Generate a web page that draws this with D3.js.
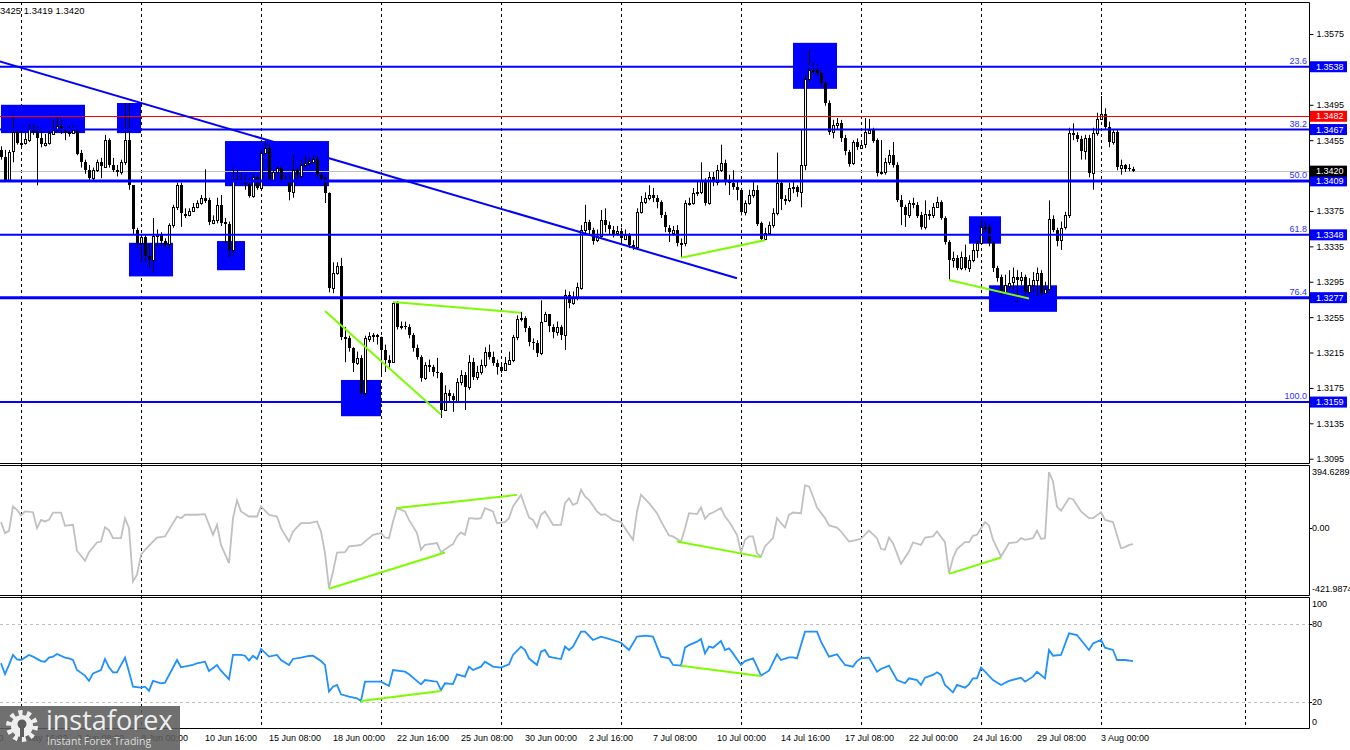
<!DOCTYPE html>
<html>
<head>
<meta charset="utf-8">
<script src="https://cdn.jsdelivr.net/npm/d3@7"></script>
<style>
  body { margin: 0; background: #fff; }
  svg { display: block; }
</style>
</head>
<body>
<svg id="chart"></svg>
<script>
// ---- data ----
const firstOpen = 1.3444;
const closes = [
  1.3436,1.3410,1.3442,1.3464,1.3452,1.3452,1.3456,1.3469,1.3465,1.3457,
  1.3450,1.3452,1.3463,1.3467,1.3471,1.3468,1.3463,1.3464,1.3467,1.3440,
  1.3430,1.3421,1.3412,1.3421,1.3430,1.3425,1.3455,1.3427,1.3421,1.3419,
  1.3430,1.3455,1.3404,1.3354,1.3339,1.3346,1.3324,1.3320,1.3347,1.3349,
  1.3341,1.3337,1.3359,1.3379,1.3404,1.3372,1.3370,1.3375,1.3379,1.3384,
  1.3390,1.3387,1.3362,1.3365,1.3382,1.3362,1.3360,1.3331,1.3411,1.3411,
  1.3411,1.3405,1.3392,1.3413,1.3401,1.3440,1.3446,1.3410,1.3419,1.3424,
  1.3410,1.3410,1.3396,1.3421,1.3415,1.3427,1.3429,1.3431,1.3434,1.3416,
  1.3412,1.3395,1.3288,1.3305,1.3313,1.3233,1.3231,1.3220,1.3203,1.3209,
  1.3169,1.3231,1.3234,1.3235,1.3233,1.3218,1.3207,1.3204,1.3271,1.3244,
  1.3245,1.3244,1.3235,1.3220,1.3210,1.3186,1.3201,1.3199,1.3193,1.3192,
  1.3150,1.3169,1.3166,1.3161,1.3182,1.3190,1.3176,1.3204,1.3187,1.3193,
  1.3201,1.3216,1.3210,1.3203,1.3199,1.3195,1.3203,1.3207,1.3233,1.3253,
  1.3254,1.3243,1.3227,1.3226,1.3215,1.3250,1.3258,1.3244,1.3238,1.3244,
  1.3235,1.3280,1.3271,1.3278,1.3289,1.3354,1.3363,1.3354,1.3342,1.3347,
  1.3365,1.3359,1.3354,1.3350,1.3352,1.3344,1.3348,1.3337,1.3334,1.3374,
  1.3385,1.3390,1.3393,1.3390,1.3385,1.3370,1.3356,1.3351,1.3354,1.3339,
  1.3339,1.3384,1.3384,1.3395,1.3396,1.3410,1.3384,1.3413,1.3407,1.3421,
  1.3429,1.3408,1.3407,1.3402,1.3399,1.3374,1.3384,1.3393,1.3399,1.3361,
  1.3343,1.3350,1.3359,1.3373,1.3407,1.3389,1.3387,1.3401,1.3402,1.3396,
  1.3427,1.3524,1.3534,1.3534,1.3531,1.3520,1.3497,1.3464,1.3472,1.3474,
  1.3457,1.3442,1.3429,1.3453,1.3447,1.3450,1.3464,1.3467,1.3455,1.3418,
  1.3419,1.3430,1.3438,1.3427,1.3387,1.3379,1.3370,1.3384,1.3382,1.3370,
  1.3357,1.3372,1.3370,1.3379,1.3385,1.3367,1.3340,1.3320,1.3322,1.3311,
  1.3323,1.3311,1.3320,1.3331,1.3339,1.3357,1.3357,1.3339,1.3311,1.3300,
  1.3283,1.3291,1.3294,1.3300,1.3297,1.3300,1.3283,1.3291,1.3297,1.3305,
  1.3282,1.3287,1.3366,1.3354,1.3342,1.3356,1.3370,1.3463,1.3461,1.3456,
  1.3442,1.3457,1.3418,1.3463,1.3479,1.3485,1.3470,1.3453,1.3464,1.3424,
  1.3427,1.3423,1.3422,1.3420
];
const highs = [
  1.3448,1.3444,1.3444,1.3483,1.3467,1.3467,1.3463,1.3473,1.3473,1.3471,
  1.3469,1.3462,1.3467,1.3478,1.3480,1.3478,1.3469,1.3471,1.3472,1.3460,
  1.3444,1.3433,1.3427,1.3424,1.3433,1.3435,1.3461,1.3457,1.3435,1.3427,
  1.3433,1.3497,1.3497,1.3404,1.3356,1.3348,1.3348,1.3337,1.3367,1.3354,
  1.3351,1.3344,1.3361,1.3382,1.3407,1.3407,1.3378,1.3378,1.3384,1.3387,
  1.3393,1.3422,1.3390,1.3370,1.3390,1.3393,1.3367,1.3363,1.3424,1.3421,
  1.3419,1.3416,1.3412,1.3416,1.3415,1.3444,1.3455,1.3451,1.3421,1.3425,
  1.3426,1.3416,1.3416,1.3438,1.3424,1.3433,1.3438,1.3435,1.3438,1.3438,
  1.3419,1.3415,1.3396,1.3317,1.3317,1.3322,1.3244,1.3234,1.3221,1.3216,
  1.3212,1.3234,1.3238,1.3237,1.3236,1.3231,1.3224,1.3212,1.3273,1.3273,
  1.3250,1.3250,1.3247,1.3237,1.3224,1.3212,1.3204,1.3207,1.3201,1.3209,
  1.3193,1.3178,1.3173,1.3169,1.3186,1.3195,1.3193,1.3212,1.3209,1.3200,
  1.3207,1.3221,1.3224,1.3216,1.3207,1.3204,1.3210,1.3216,1.3235,1.3257,
  1.3261,1.3256,1.3245,1.3231,1.3229,1.3274,1.3261,1.3257,1.3247,1.3250,
  1.3246,1.3286,1.3284,1.3284,1.3294,1.3359,1.3382,1.3365,1.3356,1.3354,
  1.3376,1.3378,1.3363,1.3358,1.3358,1.3356,1.3354,1.3350,1.3342,1.3378,
  1.3392,1.3396,1.3404,1.3401,1.3393,1.3387,1.3374,1.3359,1.3358,1.3359,
  1.3344,1.3387,1.3390,1.3401,1.3410,1.3430,1.3412,1.3419,1.3419,1.3427,
  1.3450,1.3433,1.3416,1.3421,1.3410,1.3393,1.3387,1.3399,1.3408,1.3404,
  1.3363,1.3356,1.3363,1.3378,1.3441,1.3410,1.3393,1.3407,1.3408,1.3404,
  1.3467,1.3529,1.3557,1.3543,1.3541,1.3534,1.3521,1.3500,1.3478,1.3480,
  1.3478,1.3461,1.3444,1.3455,1.3457,1.3455,1.3480,1.3479,1.3469,1.3457,
  1.3455,1.3435,1.3444,1.3453,1.3430,1.3393,1.3382,1.3387,1.3390,1.3385,
  1.3374,1.3387,1.3376,1.3384,1.3391,1.3387,1.3369,1.3342,1.3329,1.3325,
  1.3329,1.3337,1.3325,1.3338,1.3342,1.3368,1.3363,1.3360,1.3340,1.3313,
  1.3303,1.3303,1.3308,1.3311,1.3308,1.3306,1.3303,1.3299,1.3306,1.3311,
  1.3308,1.3295,1.3387,1.3370,1.3356,1.3363,1.3374,1.3469,1.3474,1.3464,
  1.3460,1.3461,1.3461,1.3469,1.3486,1.3505,1.3491,1.3476,1.3467,1.3467,
  1.3433,1.3428,1.3428,1.3425
];
const lows = [
  1.3433,1.3408,1.3408,1.3430,1.3450,1.3446,1.3450,1.3453,1.3461,1.3404,
  1.3447,1.3448,1.3450,1.3463,1.3464,1.3462,1.3455,1.3459,1.3462,1.3438,
  1.3424,1.3417,1.3410,1.3410,1.3419,1.3412,1.3424,1.3424,1.3419,1.3414,
  1.3416,1.3427,1.3399,1.3348,1.3333,1.3317,1.3317,1.3311,1.3305,1.3335,
  1.3335,1.3333,1.3333,1.3356,1.3376,1.3357,1.3367,1.3369,1.3376,1.3378,
  1.3382,1.3384,1.3359,1.3360,1.3361,1.3358,1.3338,1.3322,1.3325,1.3408,
  1.3405,1.3399,1.3390,1.3390,1.3399,1.3401,1.3440,1.3408,1.3408,1.3417,
  1.3407,1.3408,1.3387,1.3390,1.3410,1.3412,1.3424,1.3425,1.3429,1.3412,
  1.3410,1.3384,1.3283,1.3282,1.3303,1.3229,1.3204,1.3216,1.3193,1.3201,
  1.3167,1.3164,1.3227,1.3227,1.3224,1.3190,1.3193,1.3198,1.3204,1.3241,
  1.3241,1.3241,1.3231,1.3216,1.3207,1.3182,1.3184,1.3193,1.3188,1.3186,
  1.3141,1.3150,1.3159,1.3148,1.3159,1.3178,1.3150,1.3173,1.3184,1.3184,
  1.3190,1.3198,1.3207,1.3200,1.3190,1.3192,1.3195,1.3201,1.3204,1.3229,
  1.3250,1.3238,1.3222,1.3218,1.3210,1.3212,1.3250,1.3238,1.3231,1.3234,
  1.3229,1.3218,1.3265,1.3269,1.3274,1.3286,1.3348,1.3348,1.3337,1.3340,
  1.3345,1.3351,1.3348,1.3345,1.3347,1.3340,1.3342,1.3333,1.3331,1.3331,
  1.3372,1.3383,1.3387,1.3385,1.3378,1.3367,1.3351,1.3340,1.3347,1.3335,
  1.3322,1.3335,1.3381,1.3382,1.3392,1.3394,1.3381,1.3382,1.3403,1.3404,
  1.3419,1.3404,1.3393,1.3399,1.3387,1.3370,1.3370,1.3382,1.3390,1.3358,
  1.3340,1.3342,1.3348,1.3356,1.3370,1.3376,1.3382,1.3385,1.3395,1.3391,
  1.3379,1.3421,1.3521,1.3530,1.3528,1.3516,1.3494,1.3461,1.3457,1.3467,
  1.3453,1.3438,1.3425,1.3427,1.3444,1.3446,1.3446,1.3462,1.3452,1.3414,
  1.3416,1.3416,1.3427,1.3424,1.3385,1.3359,1.3357,1.3367,1.3378,1.3367,
  1.3354,1.3354,1.3365,1.3367,1.3381,1.3365,1.3337,1.3297,1.3311,1.3308,
  1.3308,1.3308,1.3306,1.3317,1.3322,1.3337,1.3351,1.3335,1.3306,1.3295,
  1.3279,1.3281,1.3286,1.3286,1.3272,1.3291,1.3280,1.3281,1.3283,1.3279,
  1.3277,1.3283,1.3283,1.3351,1.3335,1.3331,1.3354,1.3367,1.3455,1.3453,
  1.3433,1.3433,1.3413,1.3399,1.3460,1.3480,1.3467,1.3447,1.3450,1.3421,
  1.3416,1.3419,1.3420,1.3419
];

// CCI (gray) and RSI (blue) vertices: bar index and value
const cciBars = [0,1,2,3,4,5,6,8,9,10,11,12,13,15,16,18,19,21,22,24,25,26,27,28,30,31,32,33,34,35,36,38,39,41,44,45,46,49,51,53,54,55,57,58,59,60,62,64,65,67,69,70,72,73,75,77,79,80,81,82,83,84,86,87,89,90,92,93,95,96,97,98,99,101,102,104,105,106,109,110,112,113,114,115,116,117,119,120,121,123,124,126,127,128,130,131,132,133,134,135,136,137,138,140,141,142,143,144,145,146,147,149,150,151,153,155,156,158,159,160,162,164,165,167,168,170,171,172,174,175,176,177,178,180,181,182,184,185,186,187,188,189,190,191,193,194,195,196,197,198,200,201,202,203,204,206,207,209,210,212,214,215,217,219,220,221,222,223,225,227,228,230,231,233,234,236,237,238,239,241,242,243,244,246,247,248,250,252,254,255,256,258,259,260,261,262,263,264,265,267,268,270,272,273,275,276,278,280,281,282,283];
const cciVals = [36,-33,-19,134,113,77,103,98,-2,50,40,50,96,96,13,19,-144,-207,-153,-92,-86,4,-15,-65,-65,61,-2,-337,-295,-170,-138,-86,-61,-54,71,61,82,82,86,-44,19,-107,-222,61,172,103,71,71,134,82,71,-2,-86,-23,29,29,40,-23,-159,-379,-274,-155,-153,-117,-111,-107,-65,-44,-33,-61,-65,40,124,103,50,-33,-138,-107,-96,-153,-117,-102,-54,-29,-44,61,57,61,124,103,29,36,61,134,207,134,65,50,2,82,103,61,19,19,155,186,144,155,239,197,176,103,82,86,50,36,-2,-75,103,207,155,92,40,-48,-54,-86,-2,92,86,128,57,86,96,124,71,40,-44,-155,-75,-54,-54,-159,-180,-117,-65,61,29,2,82,96,92,266,260,197,128,61,15,2,-23,-86,-75,-69,-17,-65,-132,-138,-61,-96,-226,-149,-92,-107,-61,-54,-23,-90,-285,-190,-134,-90,-90,-50,-44,36,15,-75,-180,-96,-90,-65,-75,-65,-17,-69,-65,350,291,134,107,186,180,103,61,61,98,50,36,-128,-121,-107,-103];
const cciMax = 394.6289, cciMin = -421.9874;

const rsiBars = [0,1,2,3,4,5,7,8,10,11,12,13,14,16,17,18,19,21,22,23,25,26,27,28,29,31,32,33,35,36,37,38,40,41,44,45,48,49,51,52,54,55,57,58,60,61,62,63,64,65,67,69,70,72,73,75,77,78,80,81,82,83,84,85,87,89,90,91,95,97,98,101,102,105,106,109,110,111,113,114,116,117,118,120,121,123,125,127,128,130,131,132,133,134,135,136,137,138,140,141,142,143,145,146,148,150,152,155,157,159,161,163,165,167,168,170,171,172,174,175,176,177,178,180,181,182,183,185,186,188,189,190,192,194,195,197,198,199,201,204,205,207,209,211,213,214,215,217,219,220,222,224,226,227,229,230,231,233,234,235,236,238,239,241,242,243,244,245,246,248,250,252,255,256,258,259,261,262,263,265,267,269,270,272,273,275,276,278,279,281,283];
const rsiVals = [49.8,41.5,48.5,56.2,52.8,52.3,56.2,54.9,51.5,51,54.1,54.9,56.9,54.1,53.6,52.3,44.6,40.3,36.2,42,44.6,53.1,46.7,42.8,42.8,54.1,43.3,31.8,31,31.8,28.5,36.2,34.4,34.9,52.3,46.7,48.5,49.8,51,43.8,48.5,44.1,37.4,56.2,56.2,55.6,51.8,55.6,53.1,60.8,54.9,56.2,52.3,48.5,53.1,54.1,55.4,55.6,51.5,48.5,28,31.8,33.1,25.9,24.1,22.8,20.8,35.6,35.6,32.3,44.6,43.3,41.3,33.6,36.9,35.6,29.2,34.4,33.8,41.3,39.5,47.2,44.6,47.2,51,47.2,46.4,49,56.2,62.6,60,53.6,51,48.5,58.7,60,54.9,54.1,53,62.6,60,62.6,74.1,74.1,67.7,70.3,68.5,65.6,60,70.3,71,70.3,54.9,53.6,48.5,48,61.8,63.8,66.4,68.5,57.4,62.6,61.8,66.9,60,61.3,57.4,48.5,51.5,53.6,47.2,40.3,44.1,56.7,52.3,54.4,54.4,53.6,74.1,74.1,66.4,54.9,56.7,48.5,47.2,51.5,53.6,54.1,43.3,45.4,48,36.9,34.4,38.2,36.9,33.1,38.7,40.8,42.8,40.8,33.1,27.4,33.1,31,33.6,38.2,38.2,46.4,43.3,36.9,33.1,36.2,38.7,35.6,39.5,43.3,38.2,60,55.6,56.2,72.8,71.5,67.7,60,65.1,67.7,61.8,60,52.3,52.3,51.5];

// levels
const fibPrices = [1.3538, 1.3467, 1.3409, 1.3348, 1.3277, 1.3159];
const fibNames = ["23.6", "38.2", "50.0", "61.8", "76.4", "100.0"];
const resistance = 1.3482;
const bid = 1.3420;

// zones: bar span and price span
const zoneStart = [0, 29, 56, 32, 54, 85, 198, 242, 247];
const zoneEnd = [21, 35, 82, 43, 61, 95, 209, 250, 264];
const zoneTop = [1.3495, 1.3497, 1.3454, 1.3339, 1.3341, 1.3184, 1.3565, 1.3369, 1.3291];
const zoneBottom = [1.3463, 1.3463, 1.3403, 1.3301, 1.3308, 1.3143, 1.3513, 1.3338, 1.3261];

const trendBars = [-1, 184], trendPrices = [1.3545, 1.3299];
const priceDivBars = [[81, 110], [98, 130], [170, 191], [237, 257]];
const priceDivVals = [[1.3262, 1.3145], [1.3272, 1.3260], [1.3322, 1.3342], [1.3297, 1.3276]];
const cciDivBars = [[82, 111], [99, 129], [169, 190], [237, 250]];
const cciDivVals = [[-383, -155], [124, 207], [-86, -184], [-289, -186]];
const rsiDivBars = [[90, 110], [170, 190]];
const rsiDivVals = [[20.8, 28.5], [47.9, 40]];

const priceTicks = [1.3575,1.3535,1.3495,1.3455,1.3415,1.3375,1.3335,1.3295,1.3255,1.3215,1.3175,1.3135,1.3095];
const hiddenTicks = [1.3535, 1.3415]; // covered by level tags
const gridBars = [5, 35, 65, 95, 125, 155, 185, 215, 245, 275, 311];
const timeBars = [-13,3,19,35,51,67,83,99,115,131,147,163,179,195,211,227,243,259,275];
const timeLabels = ["27 May 00:00","29 May 16:00","3 Jun 08:00","8 Jun 00:00","10 Jun 16:00","15 Jun 08:00","18 Jun 00:00","22 Jun 16:00","25 Jun 08:00","30 Jun 00:00","2 Jul 16:00","7 Jul 08:00","10 Jul 00:00","14 Jul 16:00","17 Jul 08:00","22 Jul 00:00","24 Jul 16:00","29 Jul 08:00","3 Aug 00:00"];

// ---- layout ----
const W = 1350, H = 750, right = 1309;
const FONT = "'Liberation Sans', Arial, sans-serif";
const BLUE = "#0000ff", GREEN = "#7cfc00";

const svg = d3.select("#chart").attr("width", W).attr("height", H)
  .style("font-family", FONT);

const x = d3.scaleLinear().domain([0, 283]).range([1, 1133]);
const yMain = d3.scaleLinear().domain([1.3095, 1.3575]).range([458.7, 34]);
const yCci = d3.scaleLinear().domain([cciMin, cciMax]).range([595, 465]);
const yRsi = d3.scaleLinear().domain([0, 100]).range([728, 598]);

const defs = svg.append("defs");
function clip(id, y0, y1) {
  defs.append("clipPath").attr("id", id).append("rect")
    .attr("x", 0).attr("y", y0).attr("width", right).attr("height", y1 - y0);
  return svg.append("g").attr("clip-path", `url(#${id})`);
}

// grid (weekly dashed lines across all panels)
svg.append("g").selectAll("line").data(gridBars).join("line")
  .attr("x1", d => Math.round(x(d)) + 0.5).attr("x2", d => Math.round(x(d)) + 0.5)
  .attr("y1", 2).attr("y2", 729)
  .attr("stroke", "#000").attr("stroke-dasharray", "3,3");

// ---- main panel ----
const main = clip("clipMain", 3, 463);

main.append("g").selectAll("rect").data(d3.range(zoneStart.length)).join("rect")
  .attr("x", k => x(zoneStart[k]))
  .attr("width", k => x(zoneEnd[k]) - x(zoneStart[k]))
  .attr("y", k => yMain(zoneTop[k]))
  .attr("height", k => yMain(zoneBottom[k]) - yMain(zoneTop[k]))
  .attr("fill", BLUE);

main.append("line").attr("x1", 0).attr("x2", right)
  .attr("y1", Math.round(yMain(bid)) + 0.5).attr("y2", Math.round(yMain(bid)) + 0.5)
  .attr("stroke", "#c0c0c0");

const candles = closes.map((c, i) => ({
  i, c, o: i ? closes[i - 1] : firstOpen, h: highs[i], l: lows[i]
}));
const cg = main.append("g").selectAll("g").data(candles).join("g");
cg.append("line")
  .attr("x1", d => Math.round(x(d.i)) + 0.5).attr("x2", d => Math.round(x(d.i)) + 0.5)
  .attr("y1", d => yMain(Math.max(d.h, d.o, d.c)))
  .attr("y2", d => yMain(Math.min(d.l, d.o, d.c)))
  .attr("stroke", "#000");
cg.append("rect")
  .attr("x", d => Math.round(x(d.i)) - (d.c >= d.o ? 0.5 : 1))
  .attr("width", d => d.c >= d.o ? 2 : 3)
  .attr("y", d => Math.round(yMain(Math.max(d.o, d.c))) + (d.c >= d.o ? 0.5 : 0))
  .attr("height", d => Math.max(1, Math.round(yMain(Math.min(d.o, d.c)) - yMain(Math.max(d.o, d.c)))))
  .attr("fill", d => d.c >= d.o ? "#fff" : "#000")
  .attr("stroke", d => d.c >= d.o ? "#000" : "none");

// levels
main.append("line").attr("x1", 0).attr("x2", right)
  .attr("y1", Math.round(yMain(resistance)) + 0.5).attr("y2", Math.round(yMain(resistance)) + 0.5)
  .attr("stroke", "#ff0000");
const thick = new Set([1.3409, 1.3277]);
main.append("g").selectAll("line").data(fibPrices).join("line")
  .attr("x1", 0).attr("x2", right)
  .attr("y1", d => yMain(d)).attr("y2", d => yMain(d))
  .attr("stroke", BLUE).attr("stroke-width", d => thick.has(d) ? 3 : 2);
main.append("g").selectAll("text").data(fibPrices).join("text")
  .attr("x", right - 2).attr("y", d => yMain(d) - 3)
  .attr("text-anchor", "end").attr("font-size", 9).attr("fill", "#3030ff")
  .text((d, k) => fibNames[k]);

main.append("line")
  .attr("x1", x(trendBars[0])).attr("y1", yMain(trendPrices[0]))
  .attr("x2", x(trendBars[1])).attr("y2", yMain(trendPrices[1]))
  .attr("stroke", BLUE).attr("stroke-width", 2);

function divLines(g, bars, vals, y) {
  g.append("g").selectAll("line").data(bars).join("line")
    .attr("x1", (d, k) => x(d[0])).attr("y1", (d, k) => y(vals[k][0]))
    .attr("x2", (d, k) => x(d[1])).attr("y2", (d, k) => y(vals[k][1]))
    .attr("stroke", GREEN).attr("stroke-width", 2);
}
divLines(main, priceDivBars, priceDivVals, yMain);

// ---- CCI panel ----
const cci = clip("clipCci", 466, 595);
cci.append("path").datum(d3.zip(cciBars, cciVals))
  .attr("d", d3.line().x(d => x(d[0])).y(d => yCci(d[1])))
  .attr("fill", "none").attr("stroke", "#c0c0c0").attr("stroke-width", 1.8);
divLines(cci, cciDivBars, cciDivVals, yCci);

// ---- RSI panel ----
const rsi = clip("clipRsi", 598, 729);
rsi.append("g").selectAll("line").data([80, 20]).join("line")
  .attr("x1", 0).attr("x2", right)
  .attr("y1", d => Math.round(yRsi(d)) + 0.5).attr("y2", d => Math.round(yRsi(d)) + 0.5)
  .attr("stroke", "#c0c0c0").attr("stroke-dasharray", "3,3");
rsi.append("path").datum(d3.zip(rsiBars, rsiVals))
  .attr("d", d3.line().x(d => x(d[0])).y(d => yRsi(d[1])))
  .attr("fill", "none").attr("stroke", "#1e90ff").attr("stroke-width", 1.8);
divLines(rsi, rsiDivBars, rsiDivVals, yRsi);

// ---- frames ----
const frame = svg.append("g").attr("stroke", "#000").attr("fill", "none");
[[2.5, 463.5], [465.5, 595.5], [597.5, 728.5]].forEach(([t, b]) => {
  frame.append("path").attr("d", `M0,${t}H${right + 0.5}V${b}H0`);
});

// ---- price axis ----
const fmt4 = d3.format(".4f");
const axisG = svg.append("g").attr("transform", `translate(${right + 0.5},0)`)
  .call(d3.axisRight(yMain).tickValues(priceTicks)
    .tickFormat(d => hiddenTicks.includes(d) ? "" : fmt4(d)).tickSize(4).tickPadding(3))
  .attr("font-family", FONT).attr("font-size", 9);
axisG.select(".domain").remove();

const tags = [
  ...fibPrices.map(p => ({ p, bg: BLUE })),
  { p: resistance, bg: "#ff0000" },
  { p: bid, bg: "#000" }
];
const tg = svg.append("g").selectAll("g").data(tags).join("g")
  .attr("transform", d => `translate(${right + 1},${yMain(d.p)})`);
tg.append("rect").attr("x", 0).attr("y", -5.5).attr("width", 37).attr("height", 11).attr("fill", d => d.bg);
tg.append("text").attr("x", 6).attr("dy", "0.34em").attr("font-size", 9).attr("fill", "#fff")
  .text(d => fmt4(d.p));

// indicator scales
const side = svg.append("g").attr("font-size", 9).attr("fill", "#000");
side.append("text").attr("x", right + 3).attr("y", 472).attr("dy", "0.34em").text(cciMax.toFixed(4));
side.append("text").attr("x", right + 3).attr("y", 589).attr("dy", "0.34em").text(cciMin.toFixed(4));
side.append("text").attr("x", right + 3).attr("y", yCci(0)).attr("dy", "0.34em").text("0.00");
side.append("text").attr("x", right + 3).attr("y", yRsi(100) + 6).attr("dy", "0.34em").text("100");
side.append("text").attr("x", right + 3).attr("y", yRsi(0) - 6).attr("dy", "0.34em").text("0");
[80, 20].forEach(v => side.append("text").attr("x", right + 3).attr("y", yRsi(v)).attr("dy", "0.34em").text(v));
svg.append("g").attr("stroke", "#000").selectAll("line").data([yCci(0), yRsi(80), yRsi(20)]).join("line")
  .attr("x1", right).attr("x2", right + 3)
  .attr("y1", d => Math.round(d) + 0.5).attr("y2", d => Math.round(d) + 0.5);

// ---- time axis ----
svg.append("g").attr("font-size", 9).attr("fill", "#000").selectAll("text").data(timeBars).join("text")
  .attr("x", d => x(d)).attr("y", 738).attr("dy", "0.34em")
  .text((d, k) => timeLabels[k]);

// header
svg.append("text").attr("x", 0).attr("y", 10.5).attr("dy", "0.34em")
  .attr("font-size", 9.5).text("3425 1.3419 1.3420");

// ---- logo ----
const logo = svg.append("g");
logo.append("rect").attr("x", 0).attr("y", 706).attr("width", 180).attr("height", 44)
  .attr("fill", "#5c5c5c").attr("opacity", 0.88);
const gear = logo.append("g").attr("transform", "translate(22,726)");
gear.append("circle").attr("r", 13).attr("fill", "none").attr("stroke", "#eee")
  .attr("stroke-width", 6).attr("stroke-dasharray", "4,4.2");
gear.append("circle").attr("r", 11).attr("fill", "#eee");
gear.append("circle").attr("r", 4.5).attr("cy", -2).attr("fill", "#5c5c5c");
gear.append("rect").attr("x", -2).attr("y", -1).attr("width", 4).attr("height", 12).attr("fill", "#5c5c5c");
logo.append("text").attr("x", 46).attr("y", 730).attr("font-family", "'Open Sans', sans-serif")
  .attr("font-size", 27).attr("fill", "#eee").text("instaforex");
logo.append("text").attr("x", 47).attr("y", 745).attr("font-family", "'Open Sans', sans-serif")
  .attr("font-size", 10.5).attr("fill", "#ddd").text("Instant Forex Trading");
</script>
</body>
</html>
